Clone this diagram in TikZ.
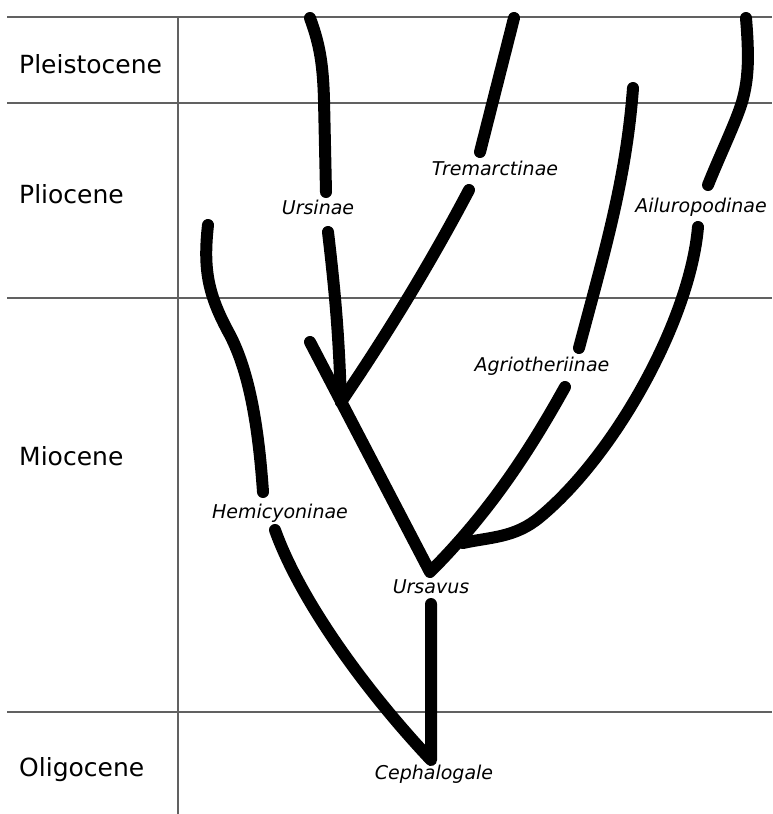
\documentclass[tikz,border=0pt]{standalone}
\usepackage{fontspec}
\setmainfont{DejaVu Sans}
\begin{document}
\begin{tikzpicture}[x=1pt,y=-1pt,
  grid/.style={draw=black!62,line width=1.3pt},
  branch/.style={draw=black,line width=12pt,line cap=round,line join=round},
  epoch/.style={anchor=base west,inner sep=0pt,font=\fontsize{25}{30}\selectfont},
  taxon/.style={anchor=base,inner sep=0pt,font=\fontsize{19}{23}\selectfont\itshape}]
\useasboundingbox (0,0) rectangle (772,814);

% time scale grid
\coordinate (gl1) at (7,17);   \coordinate (gr1) at (772,17);
\coordinate (gl2) at (7,103);  \coordinate (gr2) at (772,103);
\coordinate (gl3) at (7,298);  \coordinate (gr3) at (772,298);
\coordinate (gl4) at (7,712);  \coordinate (gr4) at (772,712);
\coordinate (vt) at (178,17);  \coordinate (vb) at (178,814);
\draw[grid] (gl1) -- (gr1);
\draw[grid] (gl2) -- (gr2);
\draw[grid] (gl3) -- (gr3);
\draw[grid] (gl4) -- (gr4);
\draw[grid] (vt) -- (vb);

% epoch names
\node[epoch] (pleis) at (19,73) {Pleistocene};
\node[epoch] (plio) at (19,203) {Pliocene};
\node[epoch] (mio) at (19,465) {Miocene};
\node[epoch] (oligo) at (19,776) {Oligocene};

% taxon names
\node[taxon] (ursinae) at (318,214) {Ursinae};
\node[taxon] (tremarct) at (495,175) {Tremarctinae};
\node[taxon] (ailuro) at (701,212) {Ailuropodinae};
\node[taxon] (agrio) at (542,371) {Agriotheriinae};
\node[taxon] (hemi) at (280,518) {Hemicyoninae};
\node[taxon] (ursavus) at (431,593) {Ursavus};
\node[taxon] (cephalo) at (434,779) {Cephalogale};

% branch end points and junctions
\coordinate (ceph) at (431,760);
\coordinate (ursv) at (430,572);
\coordinate (ursj) at (341,402);
\coordinate (ailj) at (463,543);

% Cephalogale to Hemicyoninae and Ursavus
\draw[branch] (275,530) .. controls (300,600) and (365,690) .. (ceph) -- (431,604);
% Hemicyoninae upper stem
\draw[branch] (208,225) .. controls (203,270) and (208,295) .. (230,335)
  .. controls (248,370) and (258,420) .. (263,492);

% Ursavus fork
\draw[branch] (310,342) -- (ursv) .. controls (490,512) and (530,450) .. (565,387);
% Ailuropodinae lower branch
\draw[branch] (698,227) .. controls (690,320) and (615,455) .. (540,517)
  .. controls (515,538) and (490,537) .. (ailj);

% Ursinae and Tremarctinae joining the left limb
\draw[branch] (328,232) .. controls (336,300) and (339,340) .. (ursj);
\draw[branch] (469,190) .. controls (440,245) and (400,315) .. (ursj);

% upper stems
\draw[branch] (310,18) .. controls (320,45) and (323,65) .. (324,100) -- (326,192);
\draw[branch] (514,18) -- (480,152);
\draw[branch] (633,88) .. controls (626,180) and (605,250) .. (579,348);
\draw[branch] (746,18) .. controls (749,55) and (749,78) .. (742,102)
  .. controls (736,122) and (720,155) .. (708,185);
\end{tikzpicture}
\end{document}
